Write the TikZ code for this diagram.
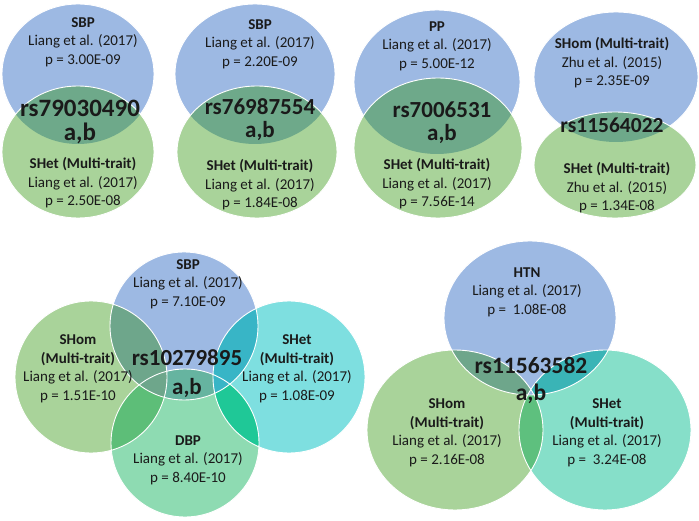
\documentclass[tikz,border=0pt]{standalone}
\usepackage{fontspec}
\setmainfont{Carlito}
\definecolor{cblue}{HTML}{9DB9E3}
\definecolor{cgreen}{HTML}{A9D39A}
\definecolor{clens}{HTML}{6EA98A}
\definecolor{ccyan}{HTML}{7EDFE0}
\definecolor{cmint}{HTML}{8EDBB2}
\definecolor{cteal}{HTML}{86DFC9}
\definecolor{cTL}{HTML}{6EA68B}
\definecolor{cTR}{HTML}{38B5C6}
\definecolor{cLB}{HTML}{5DBE78}
\definecolor{cRB}{HTML}{1FC897}
\definecolor{cTB}{HTML}{66B4A0}
\definecolor{cTRb}{HTML}{3AB4B6}
\definecolor{cLR}{HTML}{5EC07E}
\definecolor{ctext}{HTML}{1A1A1A}
\tikzset{
  txt/.style={align=center, text=ctext, inner sep=0pt, font=\fontsize{15}{18.5}\selectfont},
  bigtxt/.style 2 args={align=center, text=ctext, inner sep=0pt, font=\fontsize{#1}{#2}\selectfont\bfseries},
  rim/.style={draw=white, line width=0.9pt},
}
% top row shapes
\def\AaB{(78,74) ellipse [x radius=76pt, y radius=70pt]}
\def\AaG{(78,152) ellipse [x radius=76pt, y radius=66pt]}
\def\AbB{(255,74) ellipse [x radius=80pt, y radius=70pt]}
\def\AbG{(257,152) ellipse [x radius=80pt, y radius=66pt]}
\def\AcB{(437,82) ellipse [x radius=83pt, y radius=72pt]}
\def\AcG{(438,148) ellipse [x radius=84pt, y radius=70pt]}
\def\AdB{(616,77) ellipse [x radius=82pt, y radius=65pt]}
\def\AdG{(615,165) ellipse [x radius=81pt, y radius=53pt]}
% four circles
\def\QT{(184,326) circle [radius=74pt]}
\def\QL{(91,377) circle [radius=76pt]}
\def\QR{(289,377) circle [radius=76pt]}
\def\QB{(185,443) circle [radius=74pt]}
% three ellipses
\def\TT{(530,318) ellipse [x radius=86pt, y radius=77pt]}
\def\TL{(455,430) ellipse [x radius=88pt, y radius=80pt]}
\def\TR{(605,430) ellipse [x radius=86pt, y radius=80pt]}
\begin{document}
\begin{tikzpicture}[x=1pt,y=-1pt]
\useasboundingbox (0,0) rectangle (699,521);
\fill[white] (0,0) rectangle (699,521);

% ---- two-set Venns (top row)
\foreach \B/\G in {\AaB/\AaG,\AbB/\AbG,\AcB/\AcG,\AdB/\AdG}{
  \path[fill=cblue,rim] \B;
  \path[fill=cgreen] \G;
  \begin{scope}\clip \B; \path[fill=clens] \G; \end{scope}
  \path[rim] \G;
}

% ---- four-circle Venn
\path[fill=cblue] \QT;
\path[fill=ccyan] \QR;
\path[fill=cmint] \QB;
\path[fill=cgreen] \QL;
\begin{scope}\clip \QT; \path[fill=cTB] \QB; \end{scope}
\begin{scope}\clip \QL; \path[fill=cLB] \QB; \end{scope}
\begin{scope}\clip \QR; \path[fill=cRB] \QB; \end{scope}
\begin{scope}\clip \QT; \path[fill=cTL] \QL; \end{scope}
\begin{scope}\clip \QT; \path[fill=cTR] \QR; \end{scope}
\path[rim] \QT; \path[rim] \QR; \path[rim] \QB; \path[rim] \QL;

% ---- three-ellipse Venn
\path[fill=cblue] \TT;
\path[fill=cgreen] \TL;
\path[fill=cteal] \TR;
\begin{scope}\clip \TT; \path[fill=cTL] \TL; \end{scope}
\begin{scope}\clip \TT; \path[fill=cTRb] \TR; \end{scope}
\begin{scope}\clip \TL; \path[fill=cLR] \TR; \end{scope}
\begin{scope}\clip \TT; \clip \TL; \path[fill=cblue] \TR; \end{scope}
\path[rim] \TT; \path[rim] \TL; \path[rim] \TR;

% ---- texts, top row
\node[txt] (a1) at (83,42) {\textbf{SBP}\\Liang et al. (2017)\\p = 3.00E-09};
\node[bigtxt={25}{24}] (a2) at (80,122) {rs79030490\\a,b};
\node[txt] (a3) at (83,183) {\textbf{SHet (Multi-trait)}\\Liang et al. (2017)\\p = 2.50E-08};

\node[txt] (b1) at (260,44) {\textbf{SBP}\\Liang et al. (2017)\\p = 2.20E-09};
\node[bigtxt={23}{23}] (b2) at (260,120) {rs76987554\\a,b};
\node[txt] (b3) at (260,185) {\textbf{SHet (Multi-trait)}\\Liang et al. (2017)\\p = 1.84E-08};

\node[txt] (c1) at (437,46) {\textbf{PP}\\Liang et al. (2017)\\p = 5.00E-12};
\node[bigtxt={23}{23}] (c2) at (442,123) {rs7006531\\a,b};
\node[txt] (c3) at (437,184) {\textbf{SHet (Multi-trait)}\\Liang et al. (2017)\\p = 7.56E-14};

\node[txt] (d1) at (612,63) {\textbf{SHom (Multi-trait)}\\Zhu et al. (2015)\\p = 2.35E-09};
\node[bigtxt={21.5}{21}] (d2) at (612,125) {rs11564022};
\node[txt] (d3) at (617,188) {\textbf{SHet (Multi-trait)}\\Zhu et al. (2015)\\p = 1.34E-08};

% ---- texts, four-circle Venn
\node[txt] (e1) at (188,284) {\textbf{SBP}\\Liang et al. (2017)\\p = 7.10E-09};
\node[txt] (e2) at (78,369) {\textbf{SHom}\\\textbf{(Multi-trait)}\\Liang et al. (2017)\\p = 1.51E-10};
\node[txt] (e3) at (297,369) {\textbf{SHet}\\\textbf{(Multi-trait)}\\Liang et al. (2017)\\p = 1.08E-09};
\node[bigtxt={23}{29}] (e4) at (187,374) {rs10279895\\a,b};
\node[txt] (e5) at (188,460) {\textbf{DBP}\\Liang et al. (2017)\\p = 8.40E-10};

% ---- texts, three-ellipse Venn
\node[txt] (f1) at (527,292) {\textbf{HTN}\\Liang et al. (2017)\\p = \ 1.08E-08};
\node[bigtxt={23.5}{27}] (f2) at (531,380) {rs11563582\\a,b};
\node[txt] (f3) at (447,433) {\textbf{SHom}\\\textbf{(Multi-trait)}\\Liang et al. (2017)\\p = 2.16E-08};
\node[txt] (f4) at (607,433) {\textbf{SHet}\\\textbf{(Multi-trait)}\\Liang et al. (2017)\\p = \ 3.24E-08};
\end{tikzpicture}
\end{document}
